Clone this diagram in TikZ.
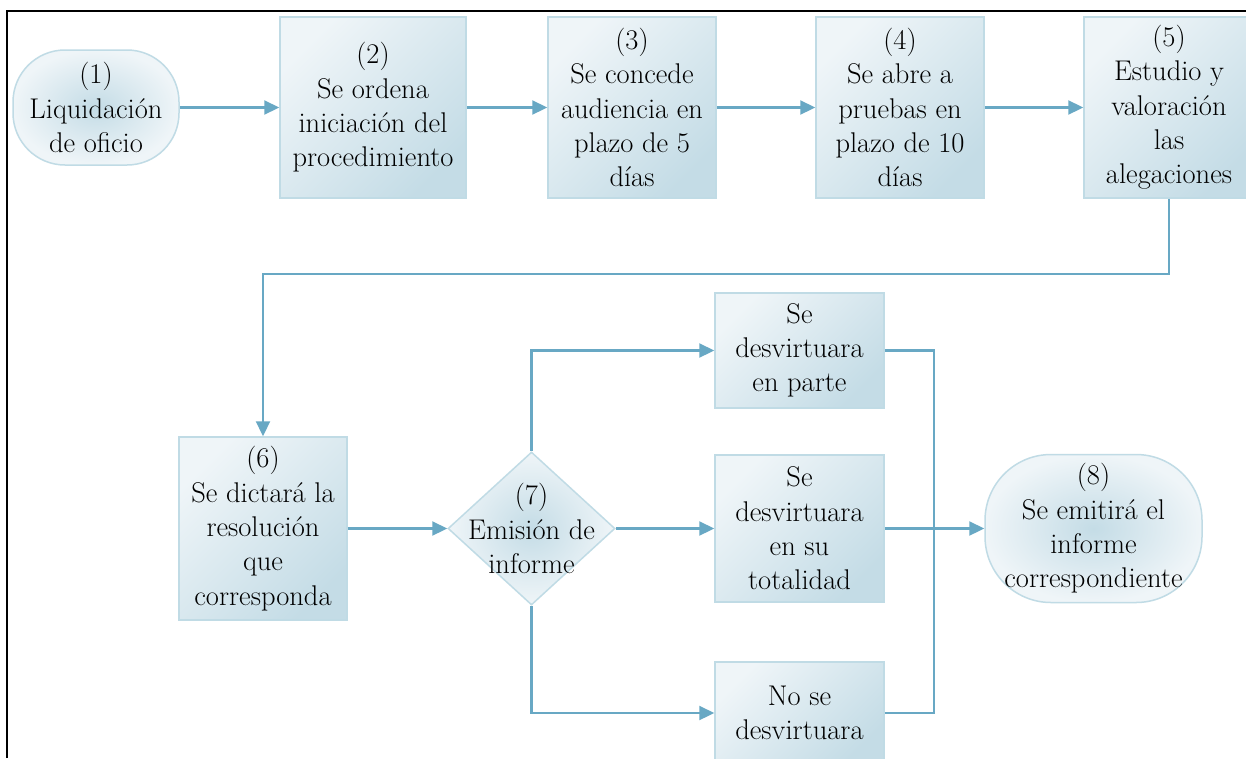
\documentclass[tikz,border=0pt]{standalone}
\usepackage{fontspec}
\usetikzlibrary{arrows.meta,shapes.geometric}

\definecolor{linkblue}{RGB}{104,168,196}
\definecolor{edgeblue}{RGB}{192,219,229}
\definecolor{paleblue}{RGB}{239,245,248}
\definecolor{deepblue}{RGB}{196,220,230}

\tikzset{
  txt/.style={font=\rmfamily\fontsize{28.5}{34.3}\selectfont, align=center, inner sep=0pt},
  stepbox/.style={txt, draw=edgeblue, line width=1.5pt,
    top color=paleblue, bottom color=deepblue, shading angle=45},
  endcap/.style={txt, draw=edgeblue, line width=1.5pt,
    inner color=deepblue, outer color=paleblue},
  decide/.style={diamond, draw=edgeblue, line width=1.5pt,
    inner color=deepblue, outer color=paleblue, inner sep=0pt},
  link/.style={draw=linkblue, line width=2.2pt},
  arr/.style={link, -{Triangle[length=15pt,width=14pt]}},
}

\begin{document}
\begin{tikzpicture}[x=1pt,y=-1pt]
  \clip (0,0) rectangle (1246,758);
  \fill[white] (0,0) rectangle (1246,758);

  % page frame
  \draw[line width=1.6pt, black] (7,758) -- (7,11) -- (1250,11);

  % first row
  \node[endcap, minimum width=166pt, minimum height=115pt, rounded corners=52pt]
    (n1) at (96,107.5) {(1)\\Liquidación\\de oficio};
  \node[stepbox, minimum width=186pt, minimum height=181pt]
    (n2) at (373,107.5) {(2)\\Se ordena\\iniciación del\\procedimiento};
  \node[stepbox, minimum width=168pt, minimum height=181pt]
    (n3) at (632,107.5) {(3)\\Se concede\\audiencia en\\plazo de 5\\días};
  \node[stepbox, minimum width=168pt, minimum height=181pt]
    (n4) at (900,107.5) {(4)\\Se abre a\\pruebas en\\plazo de 10\\días};
  \node[stepbox, minimum width=170pt, minimum height=181pt]
    (n5) at (1169,107.5) {(5)\\Estudio y\\valoración\\las\\alegaciones};

  % second row
  \node[stepbox, minimum width=168pt, minimum height=183pt]
    (n6) at (263,528.5) {(6)\\Se dictará la\\resolución\\que\\corresponda};
  \node[decide, minimum width=167pt, minimum height=153pt]
    (d7) at (531.5,528.5) {};
  \node[txt] (t7) at (d7.center) {(7)\\Emisión de\\informe};

  \node[stepbox, minimum width=169pt, minimum height=115pt]
    (na) at (799.5,350.5) {Se\\desvirtuara\\en parte};
  \node[stepbox, minimum width=169pt, minimum height=147pt]
    (nb) at (799.5,528.5) {Se\\desvirtuara\\en su\\totalidad};
  \node[stepbox, minimum width=169pt, minimum height=102pt]
    (nc) at (799.5,713) {No se\\desvirtuara};

  \node[endcap, minimum width=217pt, minimum height=148pt, rounded corners=66pt]
    (n8) at (1093.5,528.5) {(8)\\Se emitirá el\\informe\\correspondiente};

  % connectors
  \coordinate (turn) at (263,274);
  \coordinate (merge) at (934,528.5);

  \draw[arr] (n1) -- (n2);
  \draw[arr] (n2) -- (n3);
  \draw[arr] (n3) -- (n4);
  \draw[arr] (n4) -- (n5);
  \draw[arr] (n5.south) |- (turn) -- (n6.north);
  \draw[arr] (n6) -- (d7);
  \draw[arr] (d7.north) |- (na.west);
  \draw[arr] (d7) -- (nb);
  \draw[arr] (d7.south) |- (nc.west);
  \draw[link] (na.east) -| (merge);
  \draw[link] (nc.east) -| (merge);
  \draw[arr] (nb.east) -- (n8.west);
\end{tikzpicture}
\end{document}
